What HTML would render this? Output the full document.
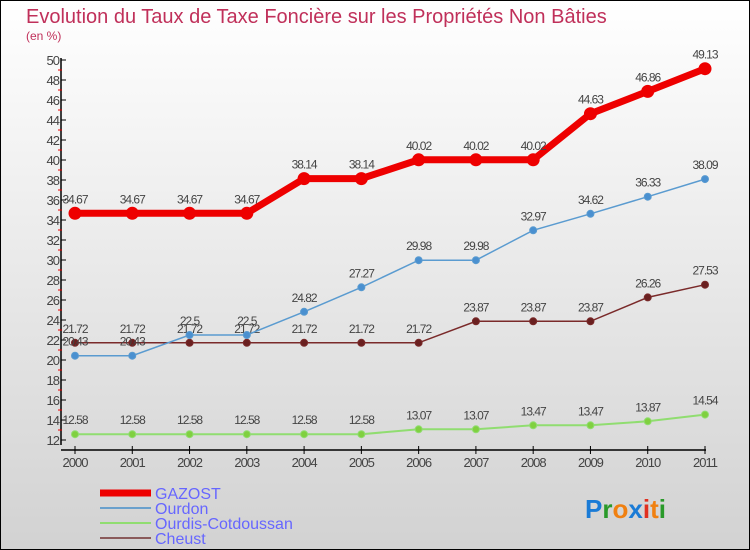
<!DOCTYPE html>
<html><head><meta charset="utf-8"><style>
body{margin:0}
#c{width:750px;height:550px;position:relative;box-sizing:border-box;border:1px solid #000;background:linear-gradient(#fff,#d2d2d2);font-family:"Liberation Sans",sans-serif;overflow:hidden}
</style></head><body>
<div id="c">
<svg id="s" width="750" height="550" style="position:absolute;left:-1px;top:-1px" font-family="Liberation Sans, sans-serif">
<text x="26" y="23" font-size="20" fill="#c0305a">Evolution du Taux de Taxe Foncière sur les Propriétés Non Bâties</text>
<text x="26" y="40" font-size="12" fill="#c0305a">(en %)</text>
<g id="axes"></g><g id="series"></g><g id="legend"></g>
<text x="585" y="518" font-size="26" font-weight="bold"><tspan fill="#1a7bd6">P</tspan><tspan fill="#2a9a2a">r</tspan><tspan fill="#f08010">o</tspan><tspan fill="#1a7bd6">x</tspan><tspan fill="#e03020">i</tspan><tspan fill="#f08010">t</tspan><tspan fill="#2a9a2a">i</tspan></text>
</svg>
</div>
<script>
const years=[2000,2001,2002,2003,2004,2005,2006,2007,2008,2009,2010,2011];
const gazost=[34.67,34.67,34.67,34.67,38.14,38.14,40.02,40.02,40.02,44.63,46.86,49.13];
const ourdon=[20.43,20.43,22.5,22.5,24.82,27.27,29.98,29.98,32.97,34.62,36.33,38.09];
const ourdis=[12.58,12.58,12.58,12.58,12.58,12.58,13.07,13.07,13.47,13.47,13.87,14.54];
const cheust=[21.72,21.72,21.72,21.72,21.72,21.72,21.72,23.87,23.87,23.87,26.26,27.53];
const yTicks=[12,14,16,18,20,22,24,26,28,30,32,34,36,38,40,42,44,46,48,50];
const NS="http://www.w3.org/2000/svg";
const xs=i=>75+i*(630/11);
const ys=v=>440-(v-12)*10;
function mk(p,t,a){const e=document.createElementNS(NS,t);for(const k in a)e.setAttribute(k,a[k]);p.appendChild(e);return e;}
const ax=document.getElementById('axes');
const yl=mk(ax,'line',{x1:61,y1:58,x2:61,y2:445,stroke:'#000','stroke-width':1.5});


const xl=mk(ax,'line',{x1:61,y1:450,x2:706,y2:450,stroke:'#000','stroke-width':1.5});


yTicks.forEach(v=>{
  mk(ax,'line',{x1:61,y1:ys(v),x2:66,y2:ys(v),stroke:'#000'});
  if(v<50)mk(ax,'line',{x1:58,y1:ys(v+1),x2:62,y2:ys(v+1),stroke:'#e00'});
  const t=mk(ax,'text',{x:59,y:ys(v)+5,'font-size':13,fill:'#444','text-anchor':'end','letter-spacing':'-1'});
  t.textContent=v;
  
  
});
years.forEach((y,i)=>{
  mk(ax,'line',{x1:xs(i),y1:446,x2:xs(i),y2:454,stroke:'#000'});
  const t=mk(ax,'text',{x:xs(i),y:467,'font-size':13,fill:'#444','text-anchor':'middle','letter-spacing':'-1'});
  t.textContent=y;
  
  
});
const sg=document.getElementById('series');
function series(name,vals,color,lw,r,dot){
  const g=mk(sg,'g',{});
  
  
  mk(g,'polyline',{points:vals.map((v,i)=>xs(i)+','+ys(v)).join(' '),fill:'none',stroke:color,'stroke-width':lw});
  vals.forEach((v,i)=>{
    const c=mk(g,'circle',{cx:xs(i),cy:ys(v),r:r,fill:dot,stroke:color,'stroke-width':1});
    
    
    const t=mk(g,'text',{x:xs(i),y:ys(v)-10,'font-size':12,fill:'#444','text-anchor':'middle','letter-spacing':'-1'});
    t.textContent=v;
    
    
  });
}
series('cheust',cheust,'#7a2a2a',1.5,3.5,'#6a2020');
series('ourdon',ourdon,'#5a9bd0',1.5,3.5,'#4a90d0');
series('ourdis',ourdis,'#90dd70',2,3.5,'#80d040');
series('gazost',gazost,'#ee0000',7,6,'#ee0000');
const lg=document.getElementById('legend');
[['GAZOST','#ee0000',7],['Ourdon','#6aa0cc',2],['Ourdis-Cotdoussan','#90dd70',2],['Cheust','#8a5a5a',2]].forEach((d,i)=>{
  const y=493+i*15;
  const g=mk(lg,'g',{});
  
  
  mk(g,'line',{x1:100,y1:y,x2:151,y2:y,stroke:d[1],'stroke-width':d[2]});
  const t=mk(g,'text',{x:155,y:y+6,'font-size':16,fill:'#6666ff'});
  t.textContent=d[0];
});
</script>
</body></html>
